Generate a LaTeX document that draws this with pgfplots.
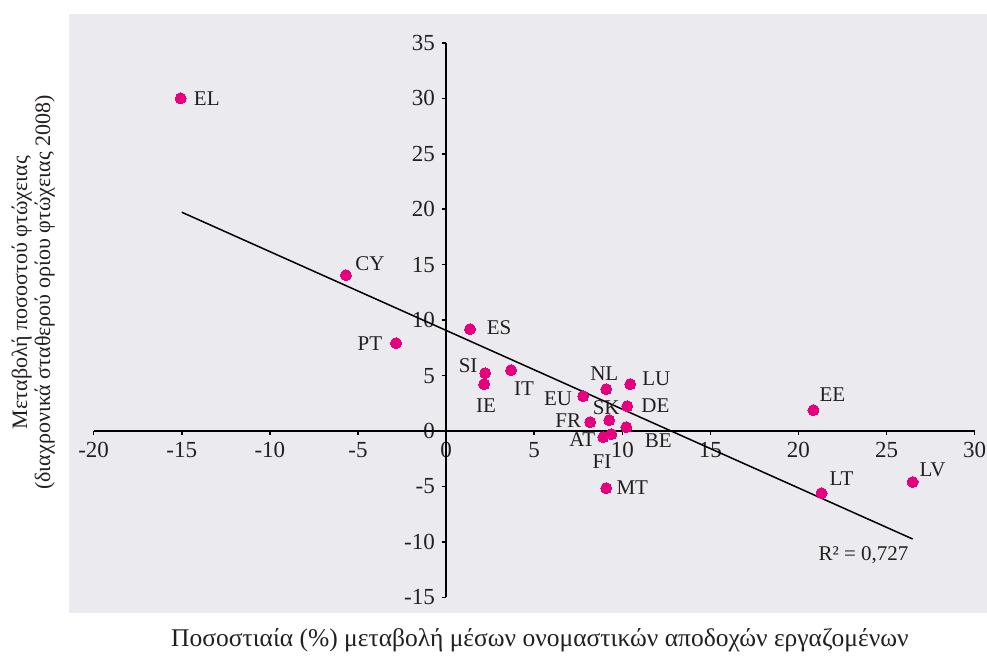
\documentclass[border=0pt]{standalone}
\usepackage{pgfplots}
\pgfplotsset{compat=1.18}
\usepackage{fontspec}
\setmainfont{Liberation Serif}
\usetikzlibrary{calc}
\definecolor{bggray}{RGB}{235,235,239}
\definecolor{mag}{RGB}{230,0,126}
\definecolor{txt}{RGB}{35,31,32}
\begin{document}
\fontsize{21}{23}\selectfont
\begin{tikzpicture}
\begin{axis}[
  scale only axis, width=918pt, height=599pt,
  xmin=-21.4, xmax=30.7, ymin=-16.4, ymax=37.6,
  axis background/.style={fill=bggray},
  axis lines=middle,
  axis line style={draw=none},
  hide obscured x ticks=false, hide obscured y ticks=false,
  xtick={-20,-15,...,30}, ytick={-15,-10,...,35},
  minor tick num=0,
  tick align=outside, major tick length=4pt,
  tick style={black, line width=1.5pt},
  /pgf/number format/assume math mode=true,
  ticklabel style={font=\fontsize{23}{25}\selectfont, text=txt},
  xticklabel style={inner xsep=1pt},
  xlabel={Ποσοστιαία (\%) μεταβολή μέσων ονομαστικών αποδοχών εργαζομένων},
  ylabel={Μεταβολή ποσοστού φτώχειας\\(διαχρονικά σταθερού ορίου φτώχειας 2008)},
  xlabel style={at={(axis description cs:0.513,-0.045)}, anchor=center, text=txt, font=\fontsize{25.5}{27}\selectfont},
  ylabel style={at={(axis description cs:-0.039,0.535)}, anchor=center, rotate=90, align=center, text=txt, font=\fontsize{22}{23}\selectfont},
  clip=false,
]
\coordinate (sw) at (rel axis cs:0,0);
\coordinate (ne) at (rel axis cs:1,1);
\addplot[black, line width=1.5pt] coordinates {(-20,0) (30,0)};
\addplot[black, line width=1.5pt] coordinates {(0,-15) (0,35)};
\addplot[black, line width=1.5pt] coordinates {(-15,19.73) (26.48,-9.73)};
\addplot[only marks, mag, mark=*, mark size=5.5pt, mark options={fill=mag, draw=mag, line width=0pt}] table[row sep=\\] {
x y\\
-15.06 30.00\\
-5.68 14.05\\
-2.84 7.93\\
1.36 9.19\\
2.22 5.23\\
2.16 4.23\\
3.69 5.50\\
7.78 3.15\\
9.09 3.78\\
10.45 4.23\\
10.28 2.25\\
9.26 0.99\\
8.18 0.81\\
10.23 0.36\\
8.92 -0.54\\
9.38 -0.27\\
9.09 -5.14\\
20.85 1.89\\
21.31 -5.59\\
26.48 -4.59\\
};
\begin{scope}[every node/.style={text=txt, font=\fontsize{21}{23}\selectfont}]
\node at (axis cs:-13.58,30.0) {EL};
\node at (axis cs:-4.32,15.05) {CY};
\node at (axis cs:-4.32,7.84) {PT};
\node at (axis cs:3.01,9.28) {ES};
\node at (axis cs:1.25,5.86) {SI};
\node at (axis cs:2.27,2.25) {IE};
\node at (axis cs:4.43,3.87) {IT};
\node at (axis cs:6.36,2.88) {EU};
\node at (axis cs:8.98,5.14) {NL};
\node at (axis cs:11.93,4.68) {LU};
\node at (axis cs:11.88,2.25) {DE};
\node at (axis cs:9.09,2.07) {SK};
\node at (axis cs:6.93,0.90) {FR};
\node at (axis cs:7.73,-0.81) {AT};
\node at (axis cs:8.85,-2.75) {FI};
\node at (axis cs:12.05,-0.90) {BE};
\node at (axis cs:10.57,-5.14) {MT};
\node at (axis cs:21.93,3.33) {EE};
\node at (axis cs:22.44,-4.32) {LT};
\node at (axis cs:27.61,-3.51) {LV};
\node at (axis cs:23.69,-11.17) {R² = 0,727};
\end{scope}
\end{axis}
\pgfresetboundingbox
\useasboundingbox ($(sw)+(-69pt,-45pt)$) rectangle ($(ne)+(0pt,14pt)$);
\end{tikzpicture}
\end{document}
